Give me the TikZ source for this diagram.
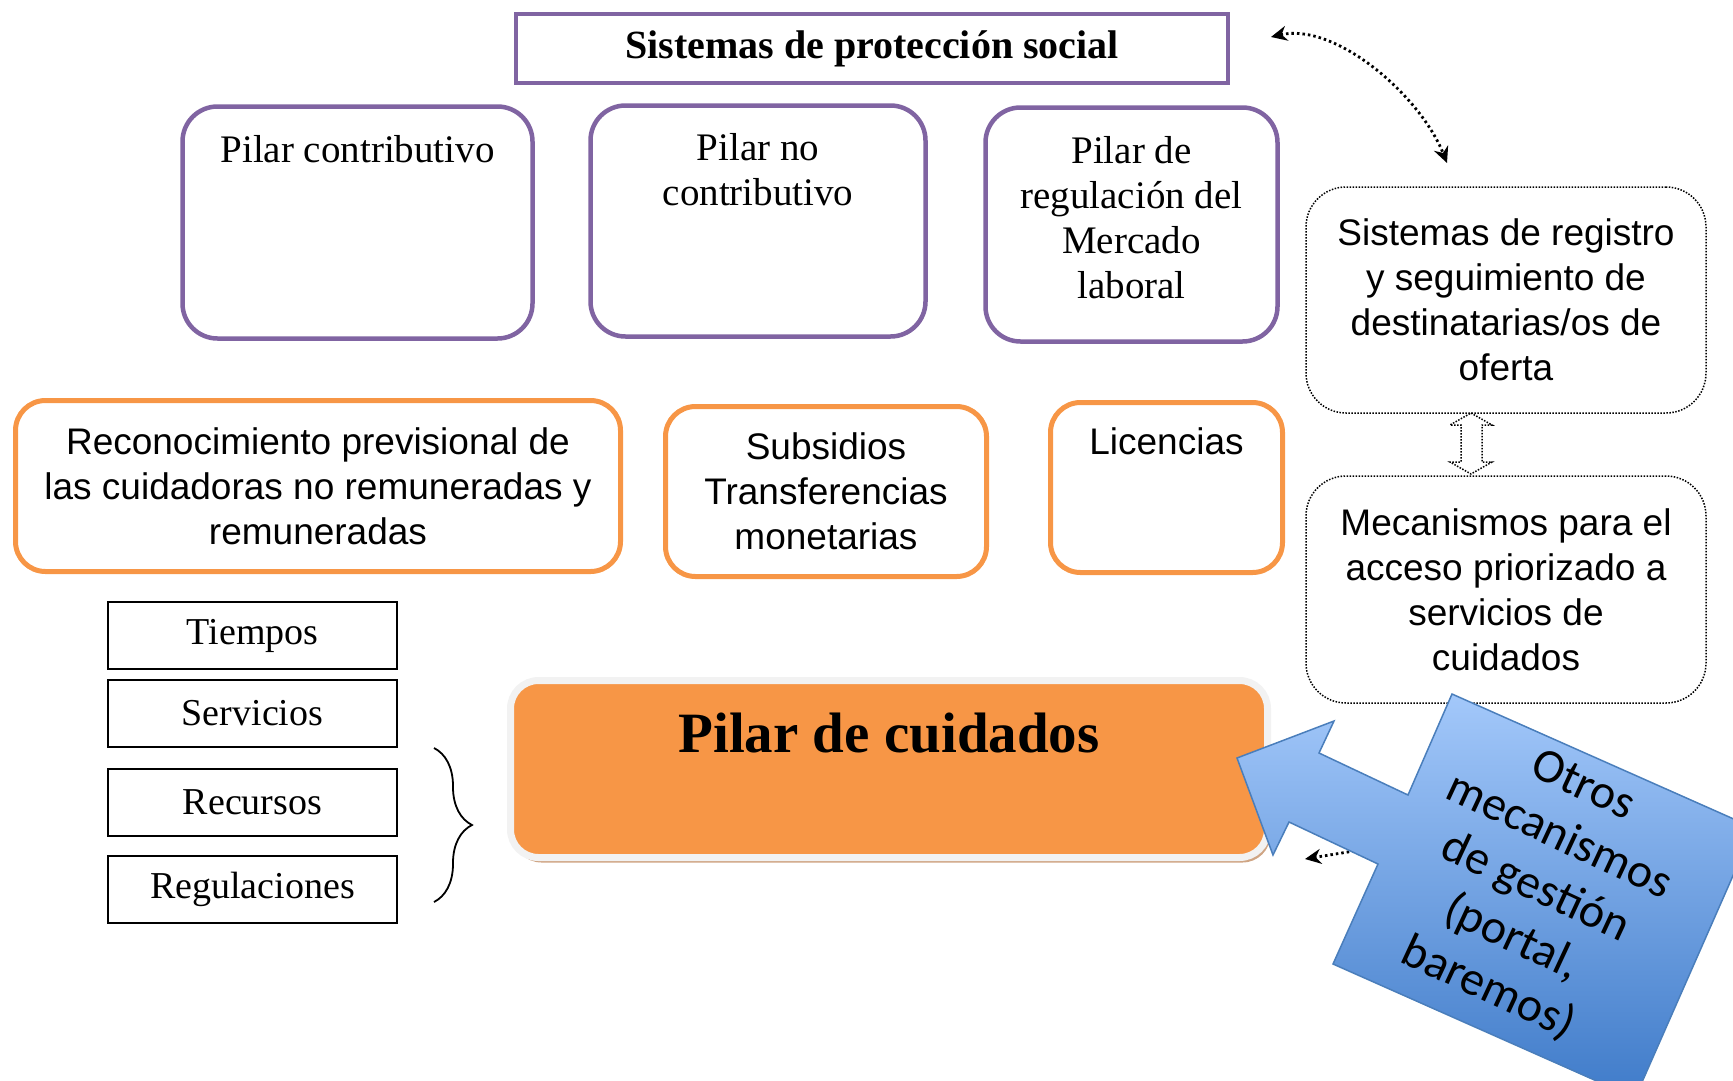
\documentclass[tikz,border=0pt]{standalone}
\usepackage{fontspec}
\setmainfont{Liberation Serif}
\newfontfamily\arialfont{Liberation Sans}
\newfontfamily\calibrifont{Carlito}
\usepackage{tikz}
\definecolor{pilarpurple}{HTML}{8064A2}
\definecolor{pilarorange}{HTML}{F79646}
\definecolor{calloutlight}{HTML}{A3C8FA}
\definecolor{calloutdark}{HTML}{3F7BC9}
\definecolor{calloutedge}{HTML}{4A7EBB}
\definecolor{shadowtan}{HTML}{CFA584}
\definecolor{rimgray}{HTML}{F2F2F2}
\usetikzlibrary{positioning, arrows, arrows.meta, decorations.pathreplacing, shapes, shadows}
\tikzstyle{dotline} = [line width=2.8pt, dash pattern=on 2.5pt off 3pt, >={Stealth[length=16pt,width=15pt]}]

\begin{document}
\begin{tikzpicture}[x=1pt, y=-1pt]
                \tikzstyle{every node}=[inner sep=0pt, font=\fontsize{39}{45}\selectfont]
                \tikzstyle{title} = [draw=pilarpurple, line width=4pt, font=\bfseries\fontsize{40}{46}\selectfont]
                \tikzstyle{pilar} = [draw=pilarpurple, line width=4.5pt, rounded corners=35pt]
                \tikzstyle{offer} = [draw=pilarorange, line width=5pt, rounded corners=30pt, align=center, font=\arialfont\fontsize{37}{45}\selectfont]
                \tikzstyle{record} = [draw, line width=1.5pt, dash pattern=on 1.5pt off 1.5pt, rounded corners=40pt, align=center, font=\arialfont\fontsize{37}{45}\selectfont, minimum width=400pt, minimum height=226pt]
                \tikzstyle{small} = [draw, line width=2pt, minimum width=289pt, minimum height=67pt, font=\fontsize{38}{44}\selectfont]
                \tikzstyle{hidden} = [draw=none, align=center]

                \useasboundingbox (0,0) rectangle (1733,1080);
                \clip (0,0) rectangle (1733,1080);

                \node[title, minimum width=712pt, minimum height=69pt](t1) at (872,48.5) {Sistemas de protección social};

                \node[pilar, minimum width=350pt, minimum height=232pt](p1) at (357.5,222.5) {};
                \node[pilar, minimum width=335pt, minimum height=231pt](p2) at (758,221) {};
                \node[pilar, minimum width=292pt, minimum height=234pt](p3) at (1131.5,224.5) {};

                % hidden nodes for the pillar texts
                \node[hidden](h1) at (357.5,149) {Pilar contributivo};
                \node[hidden](h2) at (758,170) {Pilar no\\contributivo};
                \node[hidden](h3) at (1131.5,218) {Pilar de\\regulación del\\Mercado\\laboral};

                \node[offer, minimum width=605pt, minimum height=171pt](o1) at (318,486) {Reconocimiento previsional de\\las cuidadoras no remuneradas y\\remuneradas};
                \node[offer, minimum width=321pt, minimum height=170pt](o2) at (826,491.5) {Subsidios\\Transferencias\\monetarias};
                \node[offer, minimum width=232pt, minimum height=170pt](o3) at (1166.5,487.5) {};
                \node[hidden, font=\arialfont\fontsize{37}{45}\selectfont](h4) at (1166.5,441) {Licencias};

                \node[record](r1) at (1506,300) {Sistemas de registro\\y seguimiento de\\destinatarias/os de\\oferta};
                \node[record, minimum height=227pt](r2) at (1506,589.5) {Mecanismos para el\\acceso priorizado a\\servicios de\\cuidados};
                \draw[line width=1.5pt, dash pattern=on 1.5pt off 1.5pt] (1471,413) -- (1492,425) -- (1482,425) -- (1482,462) -- (1492,462) -- (1471,474) -- (1450,462) -- (1461,462) -- (1461,425) -- (1450,425) -- cycle;

                \node[small](s1) at (252.5,635.5) {Tiempos};
                \node[small](s2) at (252.5,713) {Servicios};
                \node[small](s3) at (252.5,802.5) {Recursos};
                \node[small](s4) at (252.5,889.5) {Regulaciones};
                \draw[decorate, decoration={brace, amplitude=38pt}, line width=1.8pt] (434,748) -- (434,902);

                % dotted links
                \coordinate (a1) at (1271,37);
                \coordinate (a2) at (1447,163);
                \draw[dotline, <->] (a1) .. controls (1335,22) and (1420,95) .. (a2);
                \coordinate (b1) at (1360,850);
                \coordinate (b2) at (1305,859);
                \draw[dotline, ->] (b1) -- (b2);

                \node[draw=rimgray, line width=7pt, fill=pilarorange, rounded corners=28pt, minimum width=757pt, minimum height=177pt, drop shadow={shadow xshift=3pt, shadow yshift=-5pt, fill=shadowtan, opacity=1}](c) at (889,769) {};
                \node[hidden, font=\bfseries\fontsize{57}{64}\selectfont](c1) at (889,733) {Pilar de cuidados};

                % callout
                \path[draw=calloutedge, line width=1.5pt, top color=calloutlight, bottom color=calloutdark] (1237,758) -- (1334,721) -- (1319,753) -- (1408,795) -- (1452,694) -- (1754,828) -- (1635,1098) -- (1333,964) -- (1378,864) -- (1289,822) -- (1273,855) -- cycle;
                \node[hidden, rotate=-25, font=\calibrifont\fontsize{48}{56}\selectfont](m1) at (1535,888) {Otros\\mecanismos\\de gestión\\(portal,\\baremos)};
        \end{tikzpicture}
\end{document}
